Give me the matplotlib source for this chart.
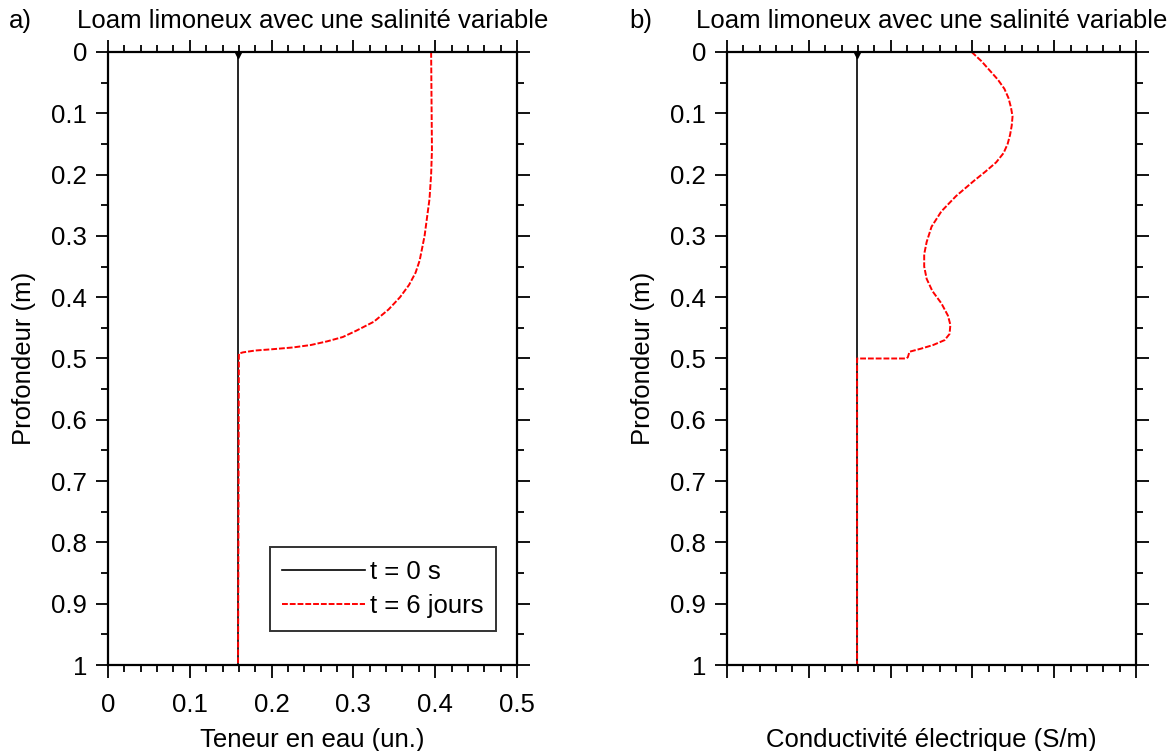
import matplotlib
matplotlib.use("Agg")
import matplotlib.pyplot as plt
from matplotlib.ticker import MultipleLocator, FormatStrFormatter, NullFormatter

plt.rcParams["font.family"] = ["Liberation Sans", "DejaVu Sans"]
plt.rcParams["font.size"] = 18.5

# Profiles: depth (m) and value
title = "Loam limoneux avec une salinité variable"
labels = ["t = 0 s", "t = 6 jours"]

depth_init = [0.0, 1.0]
theta_init = [0.159, 0.159]

depth_theta = [0.0, 0.16, 0.20, 0.24, 0.27, 0.30, 0.32, 0.34, 0.36, 0.38, 0.40,
               0.42, 0.44, 0.455, 0.465, 0.472, 0.478, 0.482, 0.485, 0.487,
               0.490, 0.492, 1.0]
theta_6j = [0.395, 0.396, 0.395, 0.393, 0.390, 0.387, 0.384, 0.381, 0.376, 0.368,
            0.357, 0.343, 0.325, 0.303, 0.287, 0.268, 0.248, 0.226, 0.200, 0.180,
            0.165, 0.160, 0.159]

depth_init_b = [0.0, 1.0]
sigma_init = [0.159, 0.159]

depth_sigma = [0.0, 0.015, 0.030, 0.045, 0.06, 0.075, 0.09, 0.105, 0.12, 0.135,
               0.15, 0.165, 0.18, 0.195, 0.21, 0.235, 0.26, 0.285, 0.31, 0.33,
               0.35, 0.37, 0.39, 0.41, 0.43, 0.445, 0.46, 0.47, 0.478, 0.484,
               0.489, 0.498, 0.500, 0.500, 1.0]
sigma_6j = [0.299, 0.311, 0.321, 0.331, 0.339, 0.344, 0.347, 0.349, 0.348, 0.346,
            0.343, 0.338, 0.329, 0.316, 0.302, 0.280, 0.262, 0.250, 0.244, 0.241,
            0.241, 0.244, 0.251, 0.262, 0.270, 0.273, 0.272, 0.266, 0.252, 0.237,
            0.223, 0.221, 0.219, 0.159, 0.159]

fig = plt.figure(figsize=(11.7, 7.51), dpi=100)
ax_a = fig.add_axes([0.0923, 0.1145, 0.3496, 0.8163])
ax_b = fig.add_axes([0.6214, 0.1145, 0.3496, 0.8163])


def style_axis(ax, show_xlabels):
    ax.set_xlim(0, 0.5)
    ax.set_ylim(1, 0)
    ax.xaxis.set_major_locator(MultipleLocator(0.1))
    ax.xaxis.set_minor_locator(MultipleLocator(0.02))
    ax.yaxis.set_major_locator(MultipleLocator(0.1))
    ax.yaxis.set_minor_locator(MultipleLocator(0.05))
    ax.yaxis.set_major_formatter(FormatStrFormatter("%g"))
    if show_xlabels:
        ax.xaxis.set_major_formatter(FormatStrFormatter("%g"))
    else:
        ax.xaxis.set_major_formatter(NullFormatter())
    ax.tick_params(which="both", direction="out", top=True, right=True,
                   width=1.3, labelsize=18.5)
    ax.tick_params(which="major", length=9)
    ax.tick_params(which="minor", length=5)
    ax.tick_params(axis="x", pad=11)
    ax.tick_params(axis="y", pad=6)
    for sp in ax.spines.values():
        sp.set_linewidth(1.6)
    ax.set_title(title, fontsize=18.5, pad=17)
    ax.set_ylabel("Profondeur (m)", fontsize=18.5, labelpad=11)


# a) water content
ax_a.plot(theta_init, depth_init, color="black", lw=1.2, label=labels[0])
ax_a.plot(theta_init[:1], depth_init[:1], color="black", marker="v", ms=9, ls="none")
ax_a.plot(theta_6j, depth_theta, color="red", lw=1.4, ls=(0, (3, 1)), label=labels[1])
style_axis(ax_a, True)
ax_a.set_xlabel("Teneur en eau (un.)", fontsize=18.5, labelpad=8)
leg = ax_a.legend(loc="lower right", bbox_to_anchor=(0.949, 0.055), fontsize=18.5,
                  frameon=True, fancybox=False, handlelength=3.2, handletextpad=0.2,
                  borderpad=0.5, labelspacing=0.4, borderaxespad=0)
leg.get_frame().set_edgecolor("black")
leg.get_frame().set_linewidth(1.4)

# b) electrical conductivity
ax_b.plot(sigma_init, depth_init_b, color="black", lw=1.2)
ax_b.plot(sigma_init[:1], depth_init_b[:1], color="black", marker="v", ms=9, ls="none")
ax_b.plot(sigma_6j, depth_sigma, color="red", lw=1.4, ls=(0, (3, 1)))
style_axis(ax_b, False)
ax_b.set_xlabel("Conductivité électrique (S/m)", fontsize=18.5, labelpad=25)

fig.text(0.008, 0.972, "a)", fontsize=18.5, va="center")
fig.text(0.538, 0.972, "b)", fontsize=18.5, va="center")

fig.savefig("out.png", dpi=100)
